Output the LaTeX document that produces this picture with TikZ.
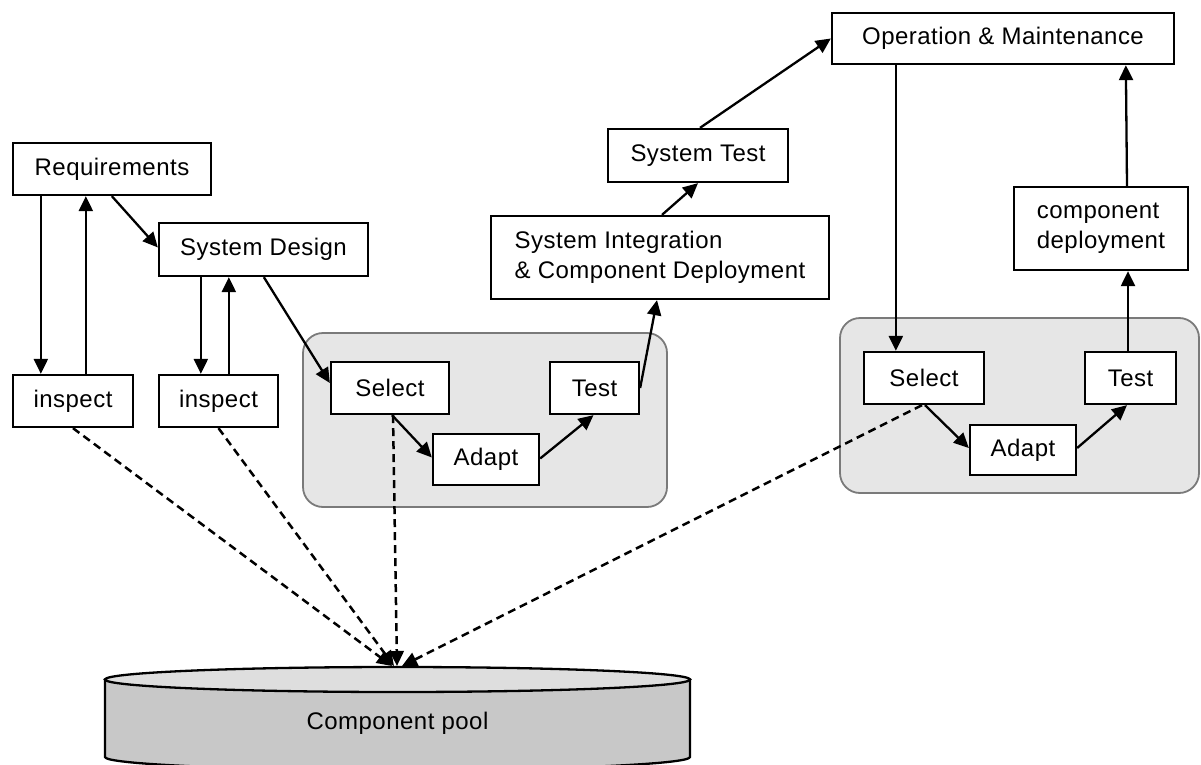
\documentclass[tikz,border=0pt]{standalone}
\usepackage{fontspec}
\setmainfont{Liberation Sans}[LetterSpace=2]
\usetikzlibrary{arrows.meta}
\definecolor{grpfill}{HTML}{E6E6E6}
\definecolor{grpline}{HTML}{7A7A7A}
\definecolor{pooltop}{HTML}{DEDEDE}
\definecolor{poolside}{HTML}{C8C8C8}
\begin{document}
\begin{tikzpicture}[x=1pt,y=-1pt,
  font=\fontsize{24}{30}\selectfont,
  box/.style={draw=black, fill=white, line width=2.3pt, inner sep=0pt, align=center},
  grp/.style={draw=grpline, fill=grpfill, line width=1.8pt, rounded corners=20pt, inner sep=0pt},
  arr/.style={line width=2.3pt, -{Triangle[length=15pt,width=14pt]}},
  darr/.style={arr, line width=2.5pt, dash pattern=on 8pt off 5pt},
  poolline/.style={draw=black, line width=2.3pt},
]
\useasboundingbox (0,0) rectangle (1201,765);

% groups
\node[grp, minimum width=364pt, minimum height=174pt] (g1) at (485,420) {};
\node[grp, minimum width=359pt, minimum height=175pt] (g2) at (1019.5,405.5) {};

% boxes
\node[box, minimum width=198pt, minimum height=52pt] (req) at (112,169) {Requirements};
\node[box, minimum width=209pt, minimum height=53pt] (sd) at (263.5,249.5) {System Design};
\node[box, minimum width=120pt, minimum height=52pt] (insp1) at (73,401) {inspect};
\node[box, minimum width=119pt, minimum height=52pt] (insp2) at (218.5,401) {inspect};
\node[box, minimum width=118pt, minimum height=52pt] (sel1) at (390,388) {Select};
\node[box, minimum width=89pt, minimum height=52pt] (test1) at (594.5,388) {Test};
\node[box, minimum width=106pt, minimum height=51pt] (adapt1) at (486,459.5) {Adapt};
\node[box, minimum width=338pt, minimum height=83pt, align=left] (sysint) at (660,257.5) {System Integration\\\& Component Deployment};
\node[box, minimum width=180pt, minimum height=53pt] (systest) at (698,155.5) {System Test};
\node[box, minimum width=342pt, minimum height=51pt] (om) at (1003,38.5) {Operation \& Maintenance};
\node[box, minimum width=120pt, minimum height=52pt] (sel2) at (924,378) {Select};
\node[box, minimum width=91pt, minimum height=52pt] (test2) at (1130.5,378) {Test};
\node[box, minimum width=106pt, minimum height=50pt] (adapt2) at (1023,450) {Adapt};
\node[box, minimum width=174pt, minimum height=83pt, align=left] (compdep) at (1101,228.5) {component\\deployment};

% component pool
\draw[poolline, fill=poolside] (105,679.5) -- (105,757)
  arc[start angle=180, end angle=360, x radius=292.5pt, y radius=13pt]
  -- (690,679.5) -- cycle;
\draw[poolline, fill=pooltop] (397.5,679.5) ellipse [x radius=292.5pt, y radius=12.5pt];
\node (pool) at (397.5,723) {Component pool};
\coordinate (tipa) at (392,666);
\coordinate (tipb) at (394,666);
\coordinate (tipc) at (397,666);
\coordinate (tipd) at (402,666);

% dashed links to pool
\draw[darr] (insp1.south) -- (tipa);
\draw[darr] (insp2.south) -- (tipb);
\draw[darr] ([xshift=3pt]sel1.south) -- (tipc);
\draw[darr] ([xshift=-2pt]sel2.south) -- (tipd);

% solid arrows
\draw[arr] ([xshift=29pt]req.south west) -- ([xshift=29pt]insp1.north west);
\draw[arr] ([xshift=74pt]insp1.north west) -- ([xshift=74pt]req.south west);
\draw[arr] ([xshift=100pt]req.south west) -- ([yshift=2pt]sd.west);
\draw[arr] ([xshift=43pt]sd.south west) -- ([xshift=43pt]insp2.north west);
\draw[arr] ([xshift=71pt]insp2.north west) -- ([xshift=71pt]sd.south west);
\draw[arr] ([xshift=106pt]sd.south west) -- ([yshift=5pt]sel1.west);
\draw[arr] ([xshift=2pt]sel1.south) -- ([yshift=2pt]adapt1.west);
\draw[arr] ([yshift=1pt]adapt1.east) -- ([xshift=-1pt]test1.south);
\draw[arr] (test1.east) -- ([xshift=-3pt]sysint.south);
\draw[arr] ([xshift=2pt]sysint.north) -- (systest.south);
\draw[arr] ([xshift=2pt]systest.north) -- (om.west);
\draw[arr] ([xshift=65pt]om.south west) -- ([xshift=33pt]sel2.north west);
\draw[arr] ([xshift=1pt]sel2.south) -- ([yshift=2pt]adapt2.west);
\draw[arr] ([yshift=2pt]adapt2.east) -- ([xshift=-3.5pt]test2.south);
\draw[arr] ([xshift=-2.5pt]test2.north) -- ([xshift=27pt]compdep.south);
\draw[arr] ([xshift=26pt]compdep.north) -- ([xshift=295pt]om.south west);
\end{tikzpicture}
\end{document}
